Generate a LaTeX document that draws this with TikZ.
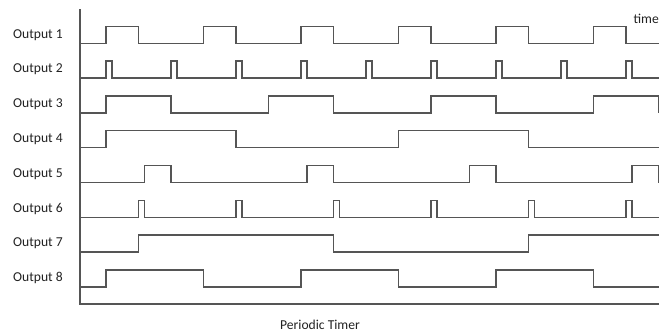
\documentclass[tikz,border=0pt]{standalone}
\usepackage{fontspec}
\setmainfont{Carlito}
\usetikzlibrary{positioning}
\definecolor{wavecol}{HTML}{555555}
\definecolor{textcol}{HTML}{222222}

\begin{document}
\begin{tikzpicture}[
  x=1pt, y=-1pt,
  font=\fontsize{13.6}{15}\selectfont,
  rowlabel/.style={anchor=west, text=textcol, inner sep=0pt},
  axis/.style={draw=wavecol, line width=1.3pt},
  wave/.style={draw=wavecol, line width=1.3pt, line join=miter},
  caption/.style={text=textcol, inner sep=0pt},
  track/.style={shift={(106,{43.3+(#1-1)*34.8})}, x=32.5pt, y=17pt}
]
\useasboundingbox (0,0) rectangle (670,333);

% Axes
\coordinate (top) at (80,9);
\coordinate (origin) at (80,304);
\coordinate (far) at (659,304);
\draw[axis] (top) -- (origin) -- (far);

% Row labels
\foreach \i in {1,...,8}
  \node[rowlabel] (out\i) at (13,{34.8*\i}) {Output \i};

% Output 1: one unit on, two off
\draw[wave, track=1] (-0.8,0) foreach \a in {0,3,...,15} { -| (\a,1) -| ({\a+1},0) } -- (17,0);
% Output 2: short pulse every two units
\draw[wave, track=2] (-0.8,0) foreach \a in {0,2,...,16} { -| (\a,1) -| ({\a+0.18},0) } -- (17,0);
% Output 3: two on, three off
\draw[wave, track=3] (-0.8,0) foreach \a in {0,5,10,15} { -| (\a,1) -| ({\a+2},0) };
% Output 4: four on, five off
\draw[wave, track=4] (-0.8,0) foreach \a in {0,9} { -| (\a,1) -| ({\a+4},0) } -- (17,0);
% Output 5: delayed pulse every five units
\draw[wave, track=5] (-0.8,0) foreach \a in {1.18,6.18,11.18,16.18} { -| (\a,1) -| ({\a+0.82},0) };
% Output 6: short pulse every three units
\draw[wave, track=6] (-0.8,0) foreach \a in {1,4,...,16} { -| (\a,1) -| ({\a+0.18},0) } -- (17,0);
% Output 7: six on, six off
\draw[wave, track=7] (-0.8,0) -| (1,1) -| (7,0) -| (13,1) -- (17,1);
% Output 8: three on, three off
\draw[wave, track=8] (-0.8,0) foreach \a in {0,6,12} { -| (\a,1) -| ({\a+3},0) } -- (17,0);

% Captions
\node[caption, anchor=east] (time) at (659,19) {time};
\node[caption] (title) at (320,325) {Periodic Timer};

\end{tikzpicture}
\end{document}
